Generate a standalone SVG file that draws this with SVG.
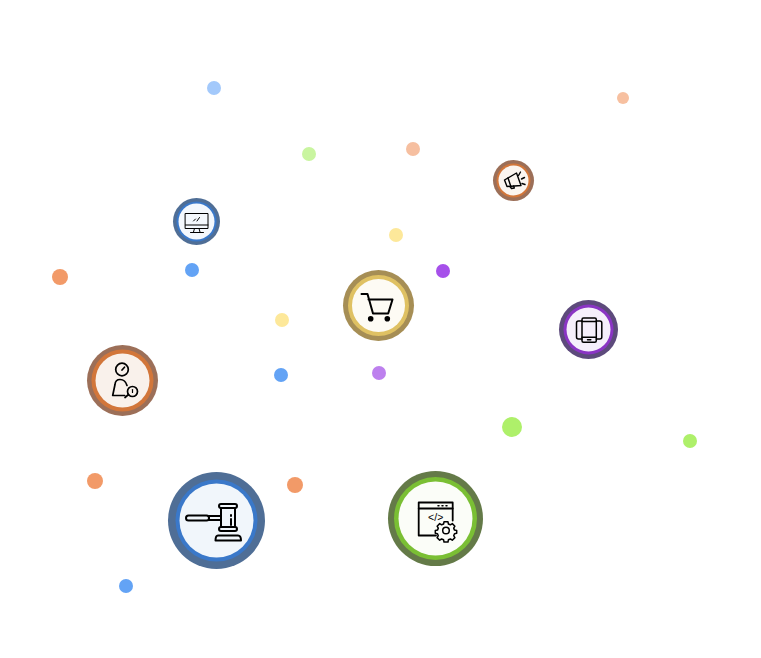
<svg xmlns="http://www.w3.org/2000/svg" width="761" height="658" viewBox="0 0 761 658">
<style>
.ic{fill:none;stroke:#000;stroke-linecap:round;stroke-linejoin:round}
.f{fill:#000;stroke:none}
.t{font-family:"Liberation Sans",Arial,sans-serif;fill:#000}
</style>
<rect width="761" height="658" fill="#fff"/>
<g id="connectors"></g>
<g id="dots">
<circle cx="214" cy="88" r="7" fill="#a3c9fb"/>
<circle cx="623" cy="98" r="6" fill="#f7c0a0"/>
<circle cx="309" cy="154" r="7" fill="#c9f5a0"/>
<circle cx="413" cy="149" r="7" fill="#f6bfa0"/>
<circle cx="396" cy="235" r="7" fill="#fde89a"/>
<circle cx="192" cy="270" r="7" fill="#63a3f5"/>
<circle cx="60" cy="277" r="8" fill="#f29a68"/>
<circle cx="443" cy="271" r="7" fill="#a650ea"/>
<circle cx="282" cy="320" r="7" fill="#fde89a"/>
<circle cx="281" cy="375" r="7" fill="#63a3f5"/>
<circle cx="379" cy="373" r="7" fill="#bd80ee"/>
<circle cx="512" cy="427" r="10" fill="#aef06a"/>
<circle cx="690" cy="441" r="7" fill="#aef06a"/>
<circle cx="95" cy="481" r="8" fill="#f29a68"/>
<circle cx="295" cy="485" r="8" fill="#f29a68"/>
<circle cx="126" cy="586" r="7" fill="#63a3f5"/>
</g>
<g id="node-gavel">
<circle cx="216.500" cy="520.500" r="48.500" fill="#4f6e96"/>
<circle cx="216.500" cy="520.500" r="41" fill="#3a78c9"/>
<circle cx="216.500" cy="520.500" r="37" fill="#f1f6fb"/>
<g class="ic" stroke-width="2">
<rect x="186" y="515.500" width="23" height="5" rx="2.500"/>
<rect x="209" y="516" width="12" height="4"/>
<rect x="219" y="504" width="18" height="4" rx="2"/>
<rect x="221" y="508" width="14" height="19"/>
<rect x="219" y="527" width="18" height="4" rx="2"/>
<path d="M215.500 540.500h25.500c0-3-1-5-3-5h-20c-2 0-2.500 2-2.500 5z"/>
<path d="M231 515v1M231 519v6"/>
</g>
</g>
<g id="node-code">
<circle cx="435.500" cy="518.500" r="47.500" fill="#647a48"/>
<circle cx="435.500" cy="518.500" r="41.500" fill="#7abf34"/>
<circle cx="435.500" cy="518.500" r="37" fill="#fbfdf8"/>
<g class="ic" stroke-width="1.800">
<path d="M436 535.500h-17.300v-33h34v18"/>
<path d="M418.700 508.500h34"/>
<path d="M438 505.700h1M442 505.700h1M446 505.700h1" stroke-width="1.500"/>
<circle cx="446" cy="530.500" r="3.300" stroke-width="1.500"/>
<path stroke-width="1.500" d="M444 521.800h4l.4 2.200 2 .8 1.900-1.200 2.600 2.600-1.200 1.900.8 2 2.200.4v2.800l-2.200.4-.8 2 1.200 1.900-2.600 2.600-1.900-1.200-2 .8-.4 2.200h-4l-.4-2.200-2-.8-1.900 1.200-2.600-2.600 1.200-1.900-.8-2-2.200-.4v-2.800l2.200-.4.8-2-1.200-1.900 2.600-2.600 1.900 1.200 2-.8z"/>
</g>
<text class="t" x="435.700" y="521" font-size="10.500" text-anchor="middle">&lt;/&gt;</text>
</g>
<g id="node-person">
<circle cx="122.500" cy="380.500" r="35.500" fill="#9c6f58"/>
<circle cx="122.500" cy="380.500" r="31" fill="#d2763a"/>
<circle cx="122.500" cy="380.500" r="27" fill="#f9f1eb"/>
<g class="ic" stroke-width="1.700">
<circle cx="122" cy="369.500" r="6.300"/>
<path d="M122 370l2.500-2.800"/>
<path d="M127 385.500c-1-3.500-3-6-7-6-3.500 0-4.800 2.500-5 5l-2.300 11h12"/>
<circle cx="132.500" cy="391.500" r="5"/>
<path d="M128.500 394.500l-3.500 3"/>
<path d="M132.500 389.500v3" stroke-width="1.200"/>
</g>
</g>
<g id="node-cart">
<circle cx="378.500" cy="305.500" r="35.500" fill="#a68e55"/>
<circle cx="378.500" cy="305.500" r="30.500" fill="#dfc163"/>
<circle cx="378.500" cy="305.500" r="26.500" fill="#fdfbf4"/>
<path class="ic" stroke-width="2" d="M361.500 294h6l5.500 19.500h15.200l4.300-14h-24"/>
<circle class="f" cx="370.700" cy="318.700" r="2.800"/>
<circle class="f" cx="387.300" cy="318.700" r="2.800"/>
</g>
<g id="node-phone">
<circle cx="588.500" cy="329.500" r="29.500" fill="#5d4a7c"/>
<circle cx="588.500" cy="329.500" r="25" fill="#8a34c4"/>
<circle cx="588.500" cy="329.500" r="22" fill="#f5effb"/>
<g class="ic" stroke-width="1.500">
<rect x="582" y="318" width="14.300" height="24.300" rx="1.500"/>
<path d="M582 321.500h14.300M582 337.300h14.300"/>
<path d="M587.500 339.800h3.300"/>
<path d="M582 321h-3.500a2 2 0 0 0-2 2v14a2 2 0 0 0 2 2h3.500"/>
<path d="M596.300 321h3.500a2 2 0 0 1 2 2v14a2 2 0 0 1-2 2h-3.500"/>
</g>
</g>
<g id="node-monitor">
<circle cx="196.500" cy="221.500" r="23.500" fill="#4f6e96"/>
<circle cx="196.500" cy="221.500" r="20" fill="#3a78c9"/>
<circle cx="196.500" cy="221.500" r="18" fill="#f4f8fd"/>
<g class="ic" stroke-width="1">
<rect x="185.500" y="213.500" width="22.500" height="15"/>
<path d="M185.500 225h22.500"/>
<path d="M193.500 221l2-2M197 221l2.500-3.500"/>
<path d="M194.500 228.500l-1 3.500M199 228.500l1 3.500M190.500 232.500h13"/>
</g>
</g>
<g id="node-megaphone">
<circle cx="513.500" cy="180.500" r="20.500" fill="#9c6f58"/>
<circle cx="513.500" cy="180.500" r="17" fill="#d2763a"/>
<circle cx="513.500" cy="180.500" r="15" fill="#fbf5f0"/>
<g class="ic" stroke-width="1.400">
<path d="M504.500 180l12-7 4.500 12.500-14 1z"/>
<path d="M508 178l2.800 8.300"/>
<path d="M510 186.500l1.500 2 2.800-.5-.6-2"/>
<path d="M518.500 175.500l2-3.500M521.500 179l3-1.500M522 183.500l3 1"/>
</g>
</g>
</svg>
